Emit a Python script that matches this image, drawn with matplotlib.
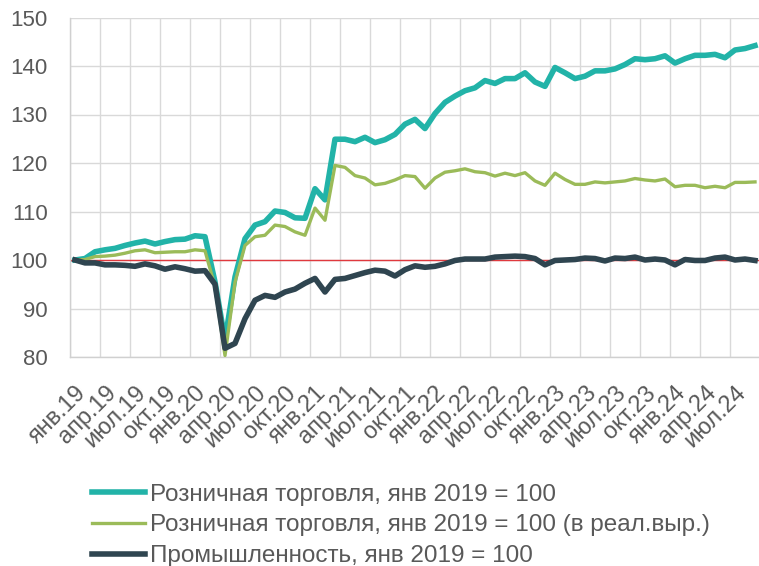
import matplotlib
matplotlib.use("Agg")
import matplotlib.pyplot as plt
import numpy as np

plt.rcParams['font.family'] = ['Liberation Sans', 'DejaVu Sans']

months = ['янв', 'апр', 'июл', 'окт']
years = ['19', '20', '21', '22', '23', '24']
tick_labels = [m + '.' + y for y in years for m in months][:23]

retail = [100.0, 100.3, 101.7, 102.1, 102.4, 103.0, 103.5, 103.9, 103.3, 103.8,
          104.2, 104.3, 105.0, 104.8, 95.5, 83.5, 96.5, 104.4, 107.2, 107.9,
          110.1, 109.8, 108.7, 108.6, 114.7, 112.4, 124.9, 124.9, 124.4, 125.3,
          124.2, 124.8, 125.9, 128.0, 129.0, 127.1, 130.2, 132.5, 133.8, 134.9,
          135.5, 137.0, 136.4, 137.4, 137.4, 138.6, 136.7, 135.8, 139.7, 138.6,
          137.4, 137.9, 139.0, 139.0, 139.4, 140.3, 141.5, 141.3, 141.5, 142.1,
          140.6, 141.5, 142.2, 142.2, 142.4, 141.7, 143.3, 143.6, 144.2]

retail_real = [100.0, 100.1, 100.7, 100.8, 101.0, 101.4, 101.9, 102.1, 101.5, 101.6,
               101.7, 101.7, 102.1, 101.9, 94.5, 80.3, 95.4, 103.0, 104.8, 105.1,
               107.2, 106.9, 105.8, 105.1, 110.7, 108.2, 119.5, 119.1, 117.4, 116.9,
               115.5, 115.8, 116.5, 117.4, 117.2, 114.8, 116.9, 118.1, 118.4, 118.8,
               118.2, 118.0, 117.3, 117.9, 117.4, 118.0, 116.3, 115.4, 117.9, 116.6,
               115.6, 115.6, 116.1, 115.9, 116.1, 116.3, 116.8, 116.5, 116.3, 116.7,
               115.1, 115.4, 115.4, 114.9, 115.2, 114.9, 116.0, 116.0, 116.1]

industry = [100.0, 99.4, 99.4, 99.0, 99.0, 98.9, 98.7, 99.2, 98.8, 98.1,
            98.6, 98.2, 97.7, 97.8, 95.0, 81.8, 82.8, 87.9, 91.7, 92.7,
            92.3, 93.4, 94.0, 95.2, 96.2, 93.4, 96.0, 96.2, 96.8, 97.4,
            97.9, 97.7, 96.7, 98.0, 98.8, 98.5, 98.7, 99.2, 99.9, 100.2,
            100.2, 100.2, 100.6, 100.7, 100.8, 100.7, 100.3, 99.0, 99.9, 100.0,
            100.1, 100.4, 100.3, 99.8, 100.4, 100.3, 100.6, 100.0, 100.2, 100.0,
            99.0, 100.1, 99.9, 99.9, 100.4, 100.6, 100.0, 100.2, 99.9]

x = np.arange(len(retail))

fig = plt.figure(figsize=(7.59, 5.66), dpi=100)
ax = fig.add_axes([70 / 759, 1 - 357 / 566, 690 / 759, 339.5 / 566])

ax.axhline(100, color="#E0393E", linewidth=1.0, zorder=2)
ax.plot(x, retail, color="#22B3A8", linewidth=4.0, zorder=3,
        label="Розничная торговля, янв 2019 = 100")
ax.plot(x, retail_real, color="#9BBB59", linewidth=2.4, zorder=3,
        label="Розничная торговля, янв 2019 = 100 (в реал.выр.)")
ax.plot(x, industry, color="#2F4550", linewidth=4.0, zorder=4,
        label="Промышленность, янв 2019 = 100")

ax.set_xlim(-0.5, len(retail) - 0.5)
ax.set_ylim(80, 150)
ax.set_yticks(np.arange(80, 151, 10))
ax.set_xticks(np.arange(0, len(retail), 3))
ax.set_xticklabels(tick_labels, rotation=45, ha='right', rotation_mode='anchor')
ax.set_xticks(np.arange(-0.5, len(retail), 3), minor=True)

ax.grid(which='major', axis='y', color="#D9D9D9", linewidth=1.0)
ax.grid(which='minor', axis='x', color="#D9D9D9", linewidth=1.0)
ax.set_axisbelow(True)
ax.tick_params(which='both', length=0)
ax.tick_params(axis='y', labelsize=16, labelcolor="#595959", pad=16)
ax.tick_params(axis='x', labelsize=17, labelcolor="#595959", pad=18)

for s in ['top', 'right']:
    ax.spines[s].set_visible(False)
for s in ['left', 'bottom']:
    ax.spines[s].set_color("#D0D0D0")
    ax.spines[s].set_linewidth(1.0)

leg = fig.legend(loc='upper left', bbox_to_anchor=(82 / 759, 1 - 474 / 566),
                 frameon=False, fontsize=17.5, handlelength=2.2, handletextpad=0.2,
                 labelspacing=0.36, borderaxespad=0)
for t in leg.get_texts():
    t.set_color("#595959")

fig.savefig("out.png", dpi=100)
